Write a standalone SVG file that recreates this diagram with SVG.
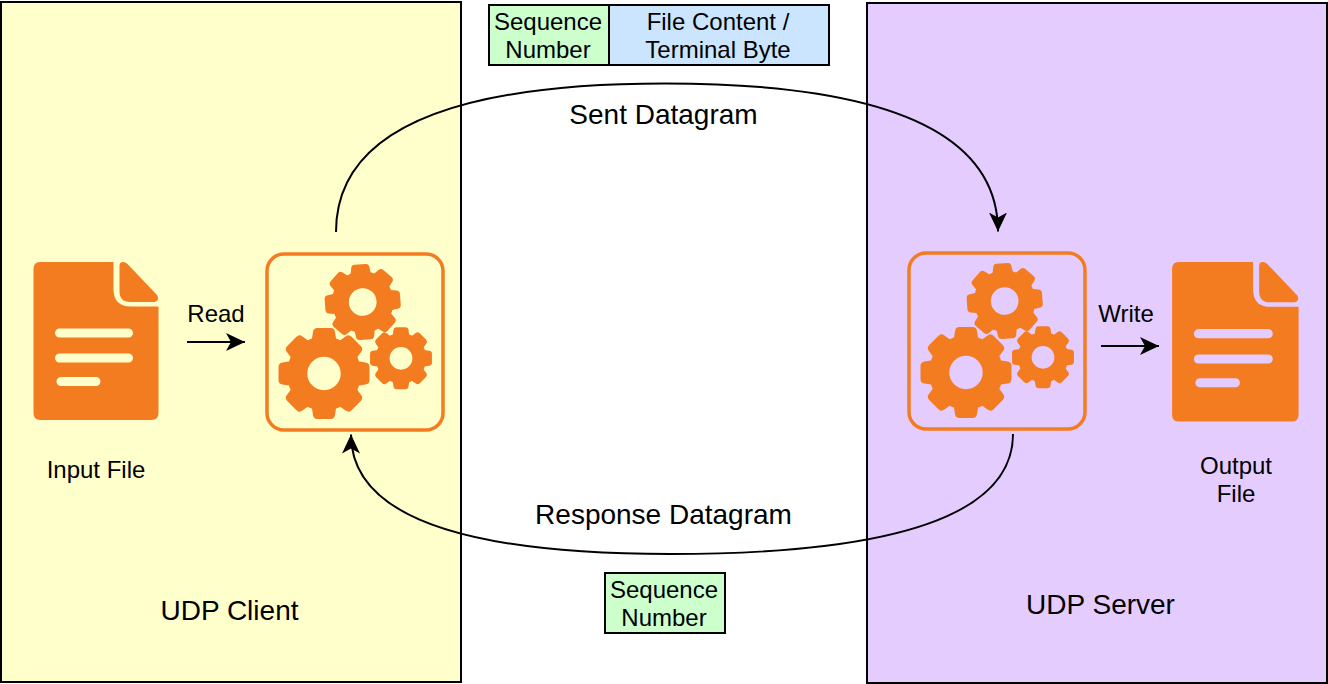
<svg xmlns="http://www.w3.org/2000/svg" width="1328" height="684" viewBox="0 0 1328 684">
<style>
text{font-family:"Liberation Sans",Arial,sans-serif;fill:#000;text-anchor:middle}
.s24{font-size:24px}.s28{font-size:28px}
.box{stroke:#000;stroke-width:2}
.conn{fill:none;stroke:#000;stroke-width:2;marker-end:url(#arrow)}
.or{fill:#f47c20}
</style>
<defs>
<marker id="arrow" markerUnits="userSpaceOnUse" markerWidth="22" markerHeight="22" refX="19" refY="11" orient="auto">
<path d="M0 2L19 11L0 20L5 11Z" fill="#000"/>
</marker>
<g id="gear">
<circle r="26.850" fill="none" stroke="#f47c20" stroke-width="20.300"/>
<g id="t" fill="#f47c20"><path id="tooth" d="M-12.500 -32L-11 -41.500Q-10.500 -45.500 -6.500 -45.500H6.500Q10.500 -45.500 11 -41.500L12.500 -32Z"/>
<use href="#tooth" transform="rotate(45)"/><use href="#tooth" transform="rotate(90)"/><use href="#tooth" transform="rotate(135)"/><use href="#tooth" transform="rotate(180)"/><use href="#tooth" transform="rotate(225)"/><use href="#tooth" transform="rotate(270)"/><use href="#tooth" transform="rotate(315)"/></g>
</g>
<g id="gears">
<rect x="267" y="254" width="176" height="176" rx="17" fill="none" stroke="#f47c20" stroke-width="3.500"/>
<use href="#gear" transform="translate(324 373.500)"/>
<use href="#gear" transform="translate(362.700 302) rotate(-4) scale(.83)"/>
<use href="#gear" transform="translate(401 358.300) scale(.68)"/>
</g>
<g id="doc" class="or">
<path fill-rule="evenodd" d="M40 262H113.500V289Q113.500 306.500 131 306.500H158.500V413Q158.500 420 151.500 420H40Q33.500 420 33.500 413V269Q33.500 262 40 262Z
M59.500 328.500A4.500 4.500 0 0 0 59.500 337.500H128.500A4.500 4.500 0 0 0 128.500 328.500Z
M59.500 353.500A4.500 4.500 0 0 0 59.500 362.500H128.500A4.500 4.500 0 0 0 128.500 353.500Z
M61 377A4.500 4.500 0 0 0 61 386H96A4.500 4.500 0 0 0 96 377Z"/>
<path d="M119.500 266Q119.500 262 123 262Q125.500 262 127.500 264L157 295Q160 300 155 302H130Q119.500 302 119.500 291Z"/>
</g>
</defs>
<g id="udp-client"><rect class="box" x="1" y="2" width="460" height="680" fill="#ffffcc"/><text class="s28" x="229.500" y="620">UDP Client</text></g>
<g id="udp-server"><rect class="box" x="867" y="3" width="460" height="680" fill="#e5ccff"/><text class="s28" x="1100.500" y="614">UDP Server</text></g>
<g id="sent-seq"><rect class="box" x="489" y="5" width="120" height="60" fill="#ccffcc"/><text class="s24" x="548" y="30">Sequence</text><text class="s24" x="548" y="58">Number</text></g>
<g id="sent-content"><rect class="box" x="609" y="5" width="220" height="60" fill="#cce5ff"/><text class="s24" x="718" y="30">File Content /</text><text class="s24" x="718" y="58">Terminal Byte</text></g>
<g id="resp-seq"><rect class="box" x="605" y="573" width="120" height="60" fill="#ccffcc"/><text class="s24" x="664" y="598">Sequence</text><text class="s24" x="664" y="626">Number</text></g>
<g id="input-file"><use href="#doc"/><text class="s24" x="96" y="478">Input File</text></g>
<g id="client-process"><use href="#gears"/></g>
<g id="server-process"><use href="#gears" transform="translate(642 -1)"/></g>
<g id="output-file"><use href="#doc" transform="translate(1138.200 -3) scale(1.012 1.011)"/><text class="s24" x="1236" y="474">Output</text><text class="s24" x="1236" y="502">File</text></g>
<g id="connectors">
<path class="conn" d="M336 232Q336 83.500 665 83.500Q998 83.500 998 231.500"/>
<path class="conn" d="M1013 434Q1013 554 670 554Q351 554 351 434.500"/>
<path class="conn" d="M187 342H245"/>
<path class="conn" d="M1101 346H1159"/>
</g>
<g id="labels">
<text class="s28" x="663.500" y="124">Sent Datagram</text>
<text class="s28" x="663.500" y="524">Response Datagram</text>
<text class="s24" x="216" y="322">Read</text>
<text class="s24" x="1126" y="322">Write</text>
</g>
</svg>
